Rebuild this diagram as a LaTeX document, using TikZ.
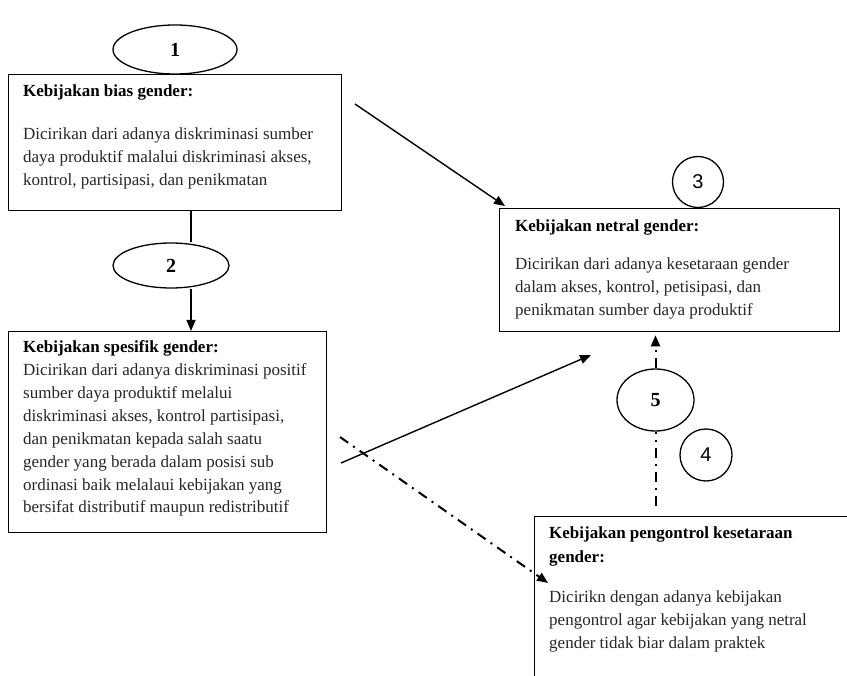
\documentclass[tikz,border=0pt]{standalone}
\usepackage{fontspec}
\setmainfont{Liberation Serif}
\newfontfamily\numsans{Liberation Sans}
\usetikzlibrary{shapes.geometric,arrows.meta}
\begin{document}
\begin{tikzpicture}[x=1pt,y=-1pt,
  box/.style={draw, line width=1.3pt, rectangle, inner sep=0pt, anchor=north west},
  oval/.style={draw, line width=1.3pt, ellipse, inner sep=0pt, font=\fontsize{20}{20}\selectfont\bfseries},
  rnd/.style={draw, line width=1.3pt, circle, inner sep=0pt, font=\numsans\fontsize{20}{20}\selectfont},
  ttl/.style={anchor=base west, inner sep=0pt, font=\fontsize{17}{24}\selectfont\bfseries, align=left},
  txt/.style={anchor=base west, inner sep=0pt, font=\fontsize{17}{23}\selectfont, align=left, text=black!85},
  arr/.style={line width=1.4pt, -{Triangle[length=11pt,width=9pt]}},
  dd/.style={line width=2pt, dash pattern=on 10pt off 6pt on 2pt off 6pt},
]
\useasboundingbox (0,0) rectangle (847,676);
\clip (0,0) rectangle (847,676);

% boxes
\node[box, minimum width=333pt, minimum height=136pt] (b1) at (8,74) {};
\node[box, minimum width=318pt, minimum height=201pt] (b2) at (8,331) {};
\node[box, minimum width=340pt, minimum height=123pt] (b3) at (499,208) {};
\node[box, minimum width=330pt, minimum height=175pt] (b4) at (534,516) {};

% texts (base = baseline of the last line)
\node[ttl] (t1) at (23,97) {Kebijakan bias gender:};
\node[txt] (d1) at (23,186) {Dicirikan dari adanya diskriminasi sumber\\daya produktif malalui diskriminasi akses,\\kontrol, partisipasi, dan penikmatan};
\node[ttl] (t2) at (23,353) {Kebijakan spesifik gender:};
\node[txt] (d2) at (23,513) {Dicirikan dari adanya diskriminasi positif\\sumber daya produktif melalui\\diskriminasi akses, kontrol partisipasi,\\dan penikmatan kepada salah saatu\\gender yang berada dalam posisi sub\\ordinasi baik melalaui kebijakan yang\\bersifat distributif maupun redistributif};
\node[ttl] (t3) at (515,232) {Kebijakan netral gender:};
\node[txt] (d3) at (515,316) {Dicirikan dari adanya kesetaraan gender\\dalam akses, kontrol, petisipasi, dan\\penikmatan sumber daya produktif};
\node[ttl] (t4) at (549,562) {Kebijakan pengontrol kesetaraan\\gender:};
\node[txt] (d4) at (549,648) {Dicirikn dengan adanya kebijakan\\pengontrol agar kebijakan yang netral\\gender tidak biar dalam praktek};

% ovals and circles
\node[oval, minimum width=124pt, minimum height=49pt] (e1) at (175,49.5) {1};
\node[oval, minimum width=116pt, minimum height=45pt] (e2) at (171,265.5) {2};
\node[oval, minimum width=77pt, minimum height=62pt] (e5) at (655.5,400) {5};
\node[rnd, minimum size=51pt] (c3) at (698,182) {3};
\node[rnd, minimum size=52pt] (c4) at (706,455) {4};

% connector end points
\coordinate (p1) at (191,210);
\coordinate (q1) at (355,104);
\coordinate (q2) at (505,206);
\coordinate (r1) at (341,463);
\coordinate (r2) at (591,355);
\coordinate (s1) at (340,437);
\coordinate (s2) at (548,583);

% connectors
\draw[line width=1.4pt] (p1) -- (p1 |- e2.north);
\draw[arr] (p1 |- e2.south) -- (p1 |- b2.north);
\draw[arr] (q1) -- (q2);
\draw[arr] (r1) -- (r2);
\draw[dd, -{Triangle[length=11pt,width=9pt]}] (s1) -- (s2);
\draw[dd, -{Triangle[length=11pt,width=9pt]}] (e5.north) -- ([yshift=-3pt]e5.north |- b3.south);
\draw[dd] ([yshift=10pt]e5.south |- b4.north) -- (e5.south);
\end{tikzpicture}
\end{document}
